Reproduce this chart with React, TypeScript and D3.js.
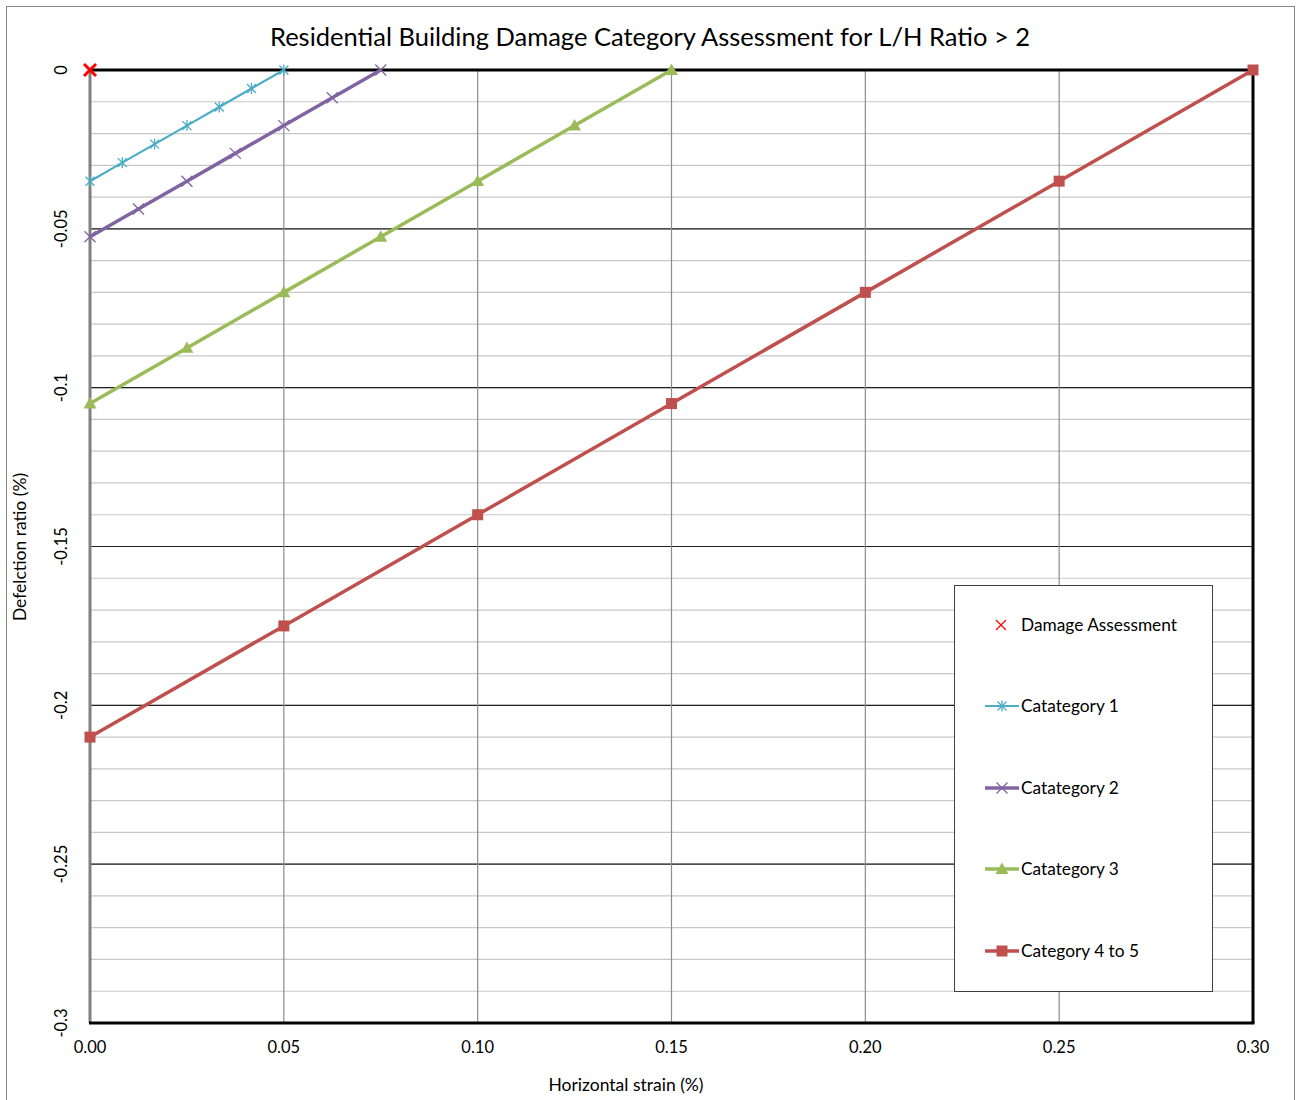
import React from "react";
import * as d3 from "d3";

const W = 1296;
const H = 1100;

const cat1X = [0, 0.05 / 6, 0.1 / 6, 0.025, 0.2 / 6, 0.25 / 6, 0.05];
const cat1Y = [-0.035, -0.02917, -0.02333, -0.0175, -0.01167, -0.00583, 0];
const cat2X = [0, 0.0125, 0.025, 0.0375, 0.05, 0.0625, 0.075];
const cat2Y = [-0.0525, -0.04375, -0.035, -0.02625, -0.0175, -0.00875, 0];
const cat3X = [0, 0.025, 0.05, 0.075, 0.1, 0.125, 0.15];
const cat3Y = [-0.105, -0.0875, -0.07, -0.0525, -0.035, -0.0175, 0];
const cat45X = [0, 0.05, 0.1, 0.15, 0.2, 0.25, 0.3];
const cat45Y = [-0.21, -0.175, -0.14, -0.105, -0.07, -0.035, 0];
const damageX = [0];
const damageY = [0];

const xTicks = [0, 0.05, 0.1, 0.15, 0.2, 0.25, 0.3];
const xTickLabels = ["0.00", "0.05", "0.10", "0.15", "0.20", "0.25", "0.30"];
const yTicks = [0, -0.05, -0.1, -0.15, -0.2, -0.25, -0.3];
const yTickLabels = ["0", "-0.05", "-0.1", "-0.15", "-0.2", "-0.25", "-0.3"];
const yMinorTicks = d3.range(1, 30).map((i) => -i / 100);

const FONT = "Lato, 'Liberation Sans', sans-serif";

type Series = { name: string; xs: number[]; ys: number[]; color: string; width: number; marker: string };
const series: Series[] = [
  { name: "Catategory 1", xs: cat1X, ys: cat1Y, color: "#4BACC6", width: 2.2, marker: "star" },
  { name: "Catategory 2", xs: cat2X, ys: cat2Y, color: "#8064A2", width: 3.5, marker: "x" },
  { name: "Catategory 3", xs: cat3X, ys: cat3Y, color: "#9BBB59", width: 3.5, marker: "triangle" },
  { name: "Category 4 to 5", xs: cat45X, ys: cat45Y, color: "#C0504D", width: 3.5, marker: "square" },
];

function Marker({ kind, x, y, color }: { kind: string; x: number; y: number; color: string }) {
  if (kind === "star") {
    const s = 4.5;
    return (
      <g stroke={color} strokeWidth={1.3}>
        <line x1={x - s} y1={y - s} x2={x + s} y2={y + s} />
        <line x1={x - s} y1={y + s} x2={x + s} y2={y - s} />
        <line x1={x} y1={y - s - 1} x2={x} y2={y + s + 1} />
      </g>
    );
  }
  if (kind === "x") {
    const s = 5.5;
    return (
      <g stroke={color} strokeWidth={1.3}>
        <line x1={x - s} y1={y - s} x2={x + s} y2={y + s} />
        <line x1={x - s} y1={y + s} x2={x + s} y2={y - s} />
      </g>
    );
  }
  if (kind === "triangle") {
    const s = 6.5;
    return <path d={`M${x},${y - s}L${x + s},${y + s * 0.75}L${x - s},${y + s * 0.75}Z`} fill={color} />;
  }
  if (kind === "square") {
    const s = 5.5;
    return <rect x={x - s} y={y - s} width={2 * s} height={2 * s} fill={color} />;
  }
  if (kind === "bigx") {
    const s = 6;
    return (
      <g stroke="#FF0000" strokeWidth={3}>
        <line x1={x - s} y1={y - s} x2={x + s} y2={y + s} />
        <line x1={x - s} y1={y + s} x2={x + s} y2={y - s} />
      </g>
    );
  }
  return null;
}

export default function App() {
  const left = 90, right = 1253, top = 70, bottom = 1023;
  const x = d3.scaleLinear().domain([0, 0.3]).range([left, right]);
  const y = d3.scaleLinear().domain([0, -0.3]).range([top, bottom]);
  const line = d3.line<[number, number]>().x((d) => x(d[0])).y((d) => y(d[1]));

  const legendItems = [
    { name: "Damage Assessment", color: "#FF0000", marker: "legx", width: 0 },
    ...series.map((s) => ({ name: s.name, color: s.color, marker: s.marker, width: s.width })),
  ];
  const legendYs = [625, 706, 788, 869, 951];

  return (
    <div style={{ position: "absolute", left: 0, top: 0 }}>
      <svg width={W} height={H} style={{ display: "block", background: "#fff" }}>
        <rect x={6.5} y={6.5} width={1288} height={1100} fill="#fff" stroke="#8a8a8a" strokeWidth={1} />
        <text x={650} y={46} textAnchor="middle" fontFamily={FONT} fontSize={25.5} fill="#000">
          Residential Building Damage Category Assessment for L/H Ratio &gt; 2
        </text>

        {yMinorTicks.map((t, i) => (
          <line key={"m" + i} x1={left} x2={right} y1={y(t)} y2={y(t)} stroke="#C8C8C8" strokeWidth={1.2} />
        ))}
        {yTicks.slice(1, -1).map((t, i) => (
          <line key={"M" + i} x1={left} x2={right} y1={y(t)} y2={y(t)} stroke="#202020" strokeWidth={1.2} />
        ))}
        {xTicks.slice(1, -1).map((t, i) => (
          <line key={"v" + i} x1={x(t)} x2={x(t)} y1={top} y2={bottom} stroke="#8C8C8C" strokeWidth={1.2} />
        ))}

        <line x1={left} x2={left} y1={top} y2={bottom} stroke="#808080" strokeWidth={3} />
        <line x1={right} x2={right} y1={top} y2={bottom} stroke="#000" strokeWidth={3} />
        <line x1={left - 1} x2={right + 1.5} y1={top} y2={top} stroke="#000" strokeWidth={3} />
        <line x1={left - 1} x2={right + 1.5} y1={bottom} y2={bottom} stroke="#000" strokeWidth={3} />

        {series.map((s) => {
          const pts: [number, number][] = s.xs.map((v, i) => [v, s.ys[i]]);
          return (
            <g key={s.name}>
              <path d={line(pts) || ""} fill="none" stroke={s.color} strokeWidth={s.width} />
              {pts.map((p, i) => (
                <Marker key={i} kind={s.marker} x={x(p[0])} y={y(p[1])} color={s.color} />
              ))}
            </g>
          );
        })}
        {damageX.map((v, i) => (
          <Marker key={"d" + i} kind="bigx" x={x(v)} y={y(damageY[i])} color="#FF0000" />
        ))}

        {xTicks.map((t, i) => (
          <text key={"xt" + i} x={x(t)} y={1053} textAnchor="middle" fontFamily={FONT} fontSize={16.5} fill="#000">
            {xTickLabels[i]}
          </text>
        ))}
        {yTicks.map((t, i) => (
          <text
            key={"yt" + i}
            transform={`translate(67,${y(t)}) rotate(-90)`}
            textAnchor="middle"
            fontFamily={FONT}
            fontSize={16.5}
            fill="#000"
          >
            {yTickLabels[i]}
          </text>
        ))}

        <text x={626} y={1091} textAnchor="middle" fontFamily={FONT} fontSize={17.5} fill="#000">
          Horizontal strain (%)
        </text>
        <text transform="translate(26,547) rotate(-90)" textAnchor="middle" fontFamily={FONT} fontSize={17.5} fill="#000">
          Defelction ratio (%)
        </text>

        <rect x={954.5} y={585.5} width={258} height={406} fill="#fff" stroke="#404040" strokeWidth={1} />
        {legendItems.map((it, i) => {
          const ly = legendYs[i];
          return (
            <g key={"lg" + i}>
              {it.marker === "legx" ? (
                <g stroke="#FF0000" strokeWidth={1.2}>
                  <line x1={996} y1={ly - 5} x2={1006} y2={ly + 5} />
                  <line x1={996} y1={ly + 5} x2={1006} y2={ly - 5} />
                </g>
              ) : (
                <g>
                  <line x1={985} x2={1019} y1={ly} y2={ly} stroke={it.color} strokeWidth={it.width} />
                  <Marker kind={it.marker} x={1002} y={ly} color={it.color} />
                </g>
              )}
              <text x={1021} y={ly + 6} fontFamily={FONT} fontSize={17.3} fill="#000">
                {it.name}
              </text>
            </g>
          );
        })}
      </svg>
    </div>
  );
}
